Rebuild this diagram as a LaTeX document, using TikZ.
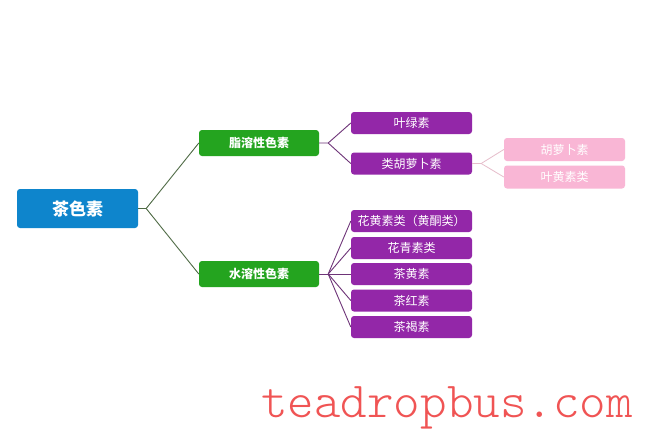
\documentclass[tikz,border=0pt]{standalone}
\usepackage{fontspec}
\newfontfamily\cjk{Noto Sans CJK SC}
\newfontfamily\markfont{Latin Modern Mono Light}
\definecolor{rootblue}{HTML}{0E85CC}
\definecolor{fatgreen}{HTML}{24A41F}
\definecolor{subpurple}{HTML}{9327A8}
\definecolor{leafpink}{HTML}{F9B6D5}
\definecolor{mainline}{HTML}{4F6B45}
\definecolor{subline}{HTML}{6E3478}
\definecolor{leafline}{HTML}{E6BDCB}
\definecolor{markred}{HTML}{F05454}
\tikzset{
	box/.style={rounded corners=3pt, inner sep=0pt, text=white, font=\cjk\fontsize{12}{14}\selectfont},
	rootbox/.style={box, fill=rootblue, minimum width=121pt, minimum height=39pt, font=\cjk\bfseries\fontsize{17}{20}\selectfont},
	groupbox/.style={box, fill=fatgreen, minimum width=120pt, minimum height=26pt, font=\cjk\bfseries\fontsize{12}{14}\selectfont},
	itembox/.style={box, fill=subpurple, minimum width=121pt, minimum height=22pt},
	leafbox/.style={box, fill=leafpink, minimum width=121pt, minimum height=23pt},
	mainlink/.style={draw=mainline, line width=0.9pt},
	sublink/.style={draw=subline, line width=0.9pt},
	leaflink/.style={draw=leafline, line width=0.8pt}
}

\begin{document}
\begin{tikzpicture}[x=1pt, y=-1pt]
			%%%%% START %%%%%
			
			\useasboundingbox[fill=white] (0, 0) rectangle (650, 434);
			
			\node[rootbox] (tea) at (77.5, 208.5) {茶色素};
			
			\node[groupbox] (fat) at (259, 143) {脂溶性色素};
			\node[groupbox] (water) at (259, 274) {水溶性色素};
			
			\node[itembox] (chloro) at (411.5, 123) {叶绿素};
			\node[itembox] (carot) at (411.5, 163.5) {类胡萝卜素};
			
			\node[leafbox] (beta) at (564.5, 149.5) {胡萝卜素};
			\node[leafbox] (lutein) at (564.5, 177) {叶黄素类};
			
			\node[itembox] (flavo) at (411.5, 221) {花黄素类（黄酮类）};
			\node[itembox] (antho) at (411.5, 248) {花青素类};
			\node[itembox] (theaf) at (411.5, 274) {茶黄素};
			\node[itembox] (thear) at (411.5, 300.5) {茶红素};
			\node[itembox] (theab) at (411.5, 327) {茶褐素};
			
			\coordinate (teafork) at ([xshift=8pt]tea.east);
			\coordinate (fatfork) at ([xshift=9pt]fat.east);
			\coordinate (waterfork) at ([xshift=9pt]water.east);
			\coordinate (carotfork) at ([xshift=9pt]carot.east);
			
			\draw[mainlink] (tea.east) -- (teafork) -- (fat.west);
			\draw[mainlink] (teafork) -- (water.west);
			
			\draw[sublink] (fat.east) -- (fatfork) -- (chloro.west);
			\draw[sublink] (fatfork) -- (carot.west);
			
			\draw[sublink] (water.east) -- (waterfork);
			\foreach \item in {flavo, antho, theaf, thear, theab}
				\draw[sublink] (waterfork) -- (\item.west);
			
			\draw[leaflink] (carot.east) -- (carotfork) -- (beta.west);
			\draw[leaflink] (carotfork) -- (lutein.west);
			
			\node[text=markred, font=\markfont\fontsize{50.5}{51}\selectfont, anchor=base] (mark) at (447, 417) {teadropbus.com};
			
			%%%%% END %%%%%
\end{tikzpicture}
\end{document}
